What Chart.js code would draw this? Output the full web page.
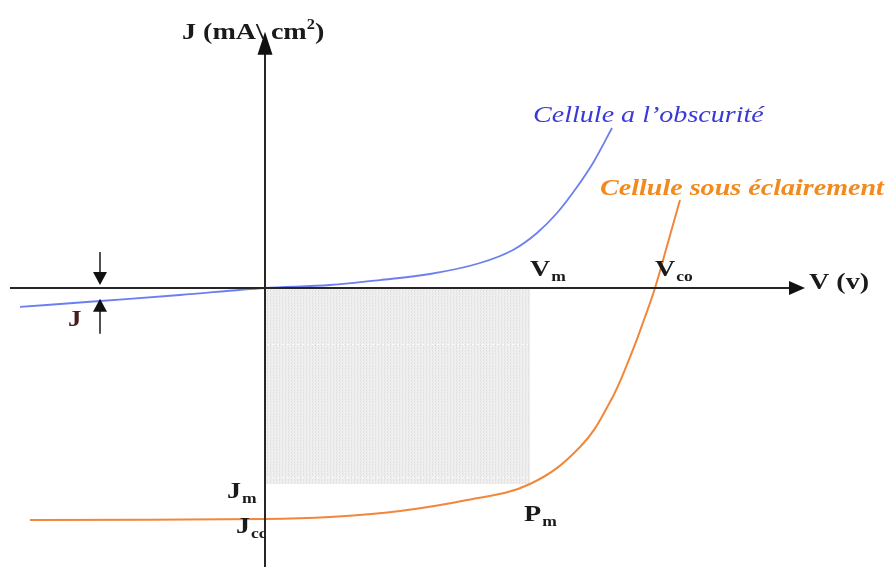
<!DOCTYPE html>
<html>
<head>
<meta charset="utf-8">
<script src="https://cdn.jsdelivr.net/npm/chart.js@4/dist/chart.umd.min.js"></script>
<style>
  html, body { margin: 0; padding: 0; background: #fff; }
  #wrap { width: 891px; height: 567px; position: relative; }
</style>
</head>
<body>
<div id="wrap"><canvas id="c"></canvas></div>
<script>
// Tension (V) and current density (mA/cm²) along each characteristic
const darkV  = [-0.49, -0.33, -0.17, 0, 0.13, 0.23, 0.33, 0.43, 0.496, 0.544, 0.584, 0.624, 0.656, 0.694];
const darkJ  = [-2.71, -1.86, -1.0, 0, 0.43, 1.14, 2.0, 3.57, 5.43, 7.86, 10.71, 14.43, 17.86, 22.86];
const lightV = [-0.47, 0, 0.13, 0.27, 0.404, 0.53, 0.63, 0.69, 0.73, 0.76, 0.78, 0.804, 0.83];
const lightJ = [-33.14, -33.0, -32.71, -31.86, -30.3, -28.0, -22.71, -16.29, -9.86, -4.14, 0, 6.0, 12.57];

// Characteristic points
const Vm = 0.53, Vco = 0.78;
const Jm = -28, Jcc = -33;
const Jdark = darkJ[0];

const pts = (xs, ys) => xs.map((x, i) => ({ x, y: ys[i] }));

// Light dotted texture for the maximum power rectangle
function dotPattern() {
  const t = document.createElement('canvas');
  t.width = 3; t.height = 3;
  const g = t.getContext('2d');
  g.fillStyle = '#f0f0f0';
  g.fillRect(0, 0, 3, 3);
  g.fillStyle = '#e0e0e0';
  g.fillRect(0, 0, 1, 1);
  g.fillRect(0, 2, 1, 1);
  g.fillStyle = '#e8e8e8';
  g.fillRect(1, 1, 1, 1);
  return g.createPattern(t, 'repeat');
}

const SERIF = '"Liberation Serif", "DejaVu Serif", serif';
const STRETCH = 1.17;

function text(ctx, str, x, y, font, color) {
  ctx.save();
  ctx.font = font;
  ctx.fillStyle = color;
  ctx.textBaseline = 'alphabetic';
  ctx.translate(x, y);
  ctx.scale(STRETCH, 1);
  ctx.fillText(str, 0, 0);
  const w = ctx.measureText(str).width * STRETCH;
  ctx.restore();
  return w;
}

function subLabel(ctx, main, sub, x, y) {
  const w = text(ctx, main, x, y, 'bold 24px ' + SERIF, '#1a1a1a');
  text(ctx, sub, x + w + 1, y + 5, 'bold 15px ' + SERIF, '#1a1a1a');
}

function arrowHead(ctx, x, y, dir, len, half) {
  // dir: 'up' | 'down' | 'right'
  ctx.beginPath();
  if (dir === 'right') {
    ctx.moveTo(x, y); ctx.lineTo(x - len, y - half); ctx.lineTo(x - len, y + half);
  } else if (dir === 'up') {
    ctx.moveTo(x, y); ctx.lineTo(x - half, y + len); ctx.lineTo(x + half, y + len);
  } else {
    ctx.moveTo(x, y); ctx.lineTo(x - half, y - len); ctx.lineTo(x + half, y - len);
  }
  ctx.closePath();
  ctx.fill();
}

const annotations = {
  id: 'annotations',
  afterDatasetsDraw(chart) {
    const { ctx, scales: { x, y } } = chart;
    const ox = x.getPixelForValue(0), oy = y.getPixelForValue(0);

    ctx.save();
    // faint lines inside the shaded rectangle
    ctx.strokeStyle = 'rgba(255,255,255,0.9)';
    ctx.lineWidth = 1;
    ctx.setLineDash([2, 3]);
    [-8, -27].forEach(j => {
      const py = Math.round(y.getPixelForValue(j)) + 0.5;
      ctx.beginPath();
      ctx.moveTo(ox + 2, py);
      ctx.lineTo(x.getPixelForValue(Vm) - 2, py);
      ctx.stroke();
    });
    ctx.setLineDash([]);

    // axes
    ctx.strokeStyle = '#262626';
    ctx.fillStyle = '#111';
    ctx.lineWidth = 2;
    const xEnd = x.getPixelForValue(1.08);
    ctx.beginPath();
    ctx.moveTo(x.getPixelForValue(-0.51), oy);
    ctx.lineTo(xEnd - 10, oy);
    ctx.stroke();
    arrowHead(ctx, xEnd, oy, 'right', 16, 7);

    const yTop = y.getPixelForValue(36.6);
    ctx.beginPath();
    ctx.moveTo(ox, chart.height);
    ctx.lineTo(ox, yTop + 12);
    ctx.stroke();
    arrowHead(ctx, ox, yTop, 'up', 23, 7.5);

    // small arrows marking the dark current
    const ax = x.getPixelForValue(-0.33);
    const pyDark = y.getPixelForValue(Jdark * 0.62);
    ctx.lineWidth = 1.6;
    ctx.beginPath();
    ctx.moveTo(ax, oy - 36); ctx.lineTo(ax, oy - 8);
    ctx.stroke();
    arrowHead(ctx, ax, oy - 3, 'down', 13, 7);
    ctx.beginPath();
    ctx.moveTo(ax, pyDark + 8); ctx.lineTo(ax, pyDark + 34);
    ctx.stroke();
    arrowHead(ctx, ax, pyDark - 1, 'up', 13, 7);
    ctx.restore();

    // texts
    ctx.save();
    const tw = text(ctx, 'J (mA\\ cm', ox - 83, 39, 'bold 24px ' + SERIF, '#1a1a1a');
    const sw = text(ctx, '2', ox - 83 + tw, 29, 'bold 14px ' + SERIF, '#1a1a1a');
    text(ctx, ')', ox - 83 + tw + sw, 39, 'bold 24px ' + SERIF, '#1a1a1a');

    text(ctx, 'V (v)', xEnd + 4, oy + 1, 'bold 24px ' + SERIF, '#1a1a1a');

    text(ctx, 'Cellule a l’obscurité', 533, 122, 'italic 24px ' + SERIF, '#3a3ad8');
    text(ctx, 'Cellule sous éclairement', 600, 195, 'bold italic 24px ' + SERIF, '#f28a1e');

    subLabel(ctx, 'V', 'm', x.getPixelForValue(Vm), oy - 12);
    subLabel(ctx, 'V', 'co', x.getPixelForValue(Vco), oy - 12);
    subLabel(ctx, 'J', 'm', ox - 38, y.getPixelForValue(Jm) + 14);
    subLabel(ctx, 'J', 'cc', ox - 29, y.getPixelForValue(Jcc) + 14);
    subLabel(ctx, 'P', 'm', x.getPixelForValue(Vm) - 6, y.getPixelForValue(Jm) + 37);
    text(ctx, 'J', ax - 32, pyDark + 26, 'bold 23px ' + SERIF, '#4a1c1c');
    ctx.restore();
  }
};

new Chart(document.getElementById('c'), {
  type: 'line',
  data: {
    datasets: [
      {
        label: 'Pm',
        data: [{ x: 0, y: Jm }, { x: Vm, y: Jm }],
        borderWidth: 0,
        pointRadius: 0,
        fill: 'origin',
        backgroundColor: dotPattern(),
        order: 3
      },
      {
        label: 'Cellule a l’obscurité',
        data: pts(darkV, darkJ),
        borderColor: '#6b7ff0',
        borderWidth: 1.8,
        pointRadius: 0,
        cubicInterpolationMode: 'monotone',
        fill: false,
        order: 1
      },
      {
        label: 'Cellule sous éclairement',
        data: pts(lightV, lightJ),
        borderColor: '#f2863a',
        borderWidth: 2,
        pointRadius: 0,
        tension: 0.4,
        fill: false,
        order: 2
      }
    ]
  },
  options: {
    responsive: true,
    maintainAspectRatio: false,
    animation: false,
    layout: { padding: 0 },
    plugins: { legend: { display: false }, tooltip: { enabled: false } },
    scales: {
      x: { type: 'linear', min: -0.53, max: 1.252, display: false },
      y: { type: 'linear', min: -39.857, max: 41.143, display: false }
    }
  },
  plugins: [annotations]
});
</script>
</body>
</html>
